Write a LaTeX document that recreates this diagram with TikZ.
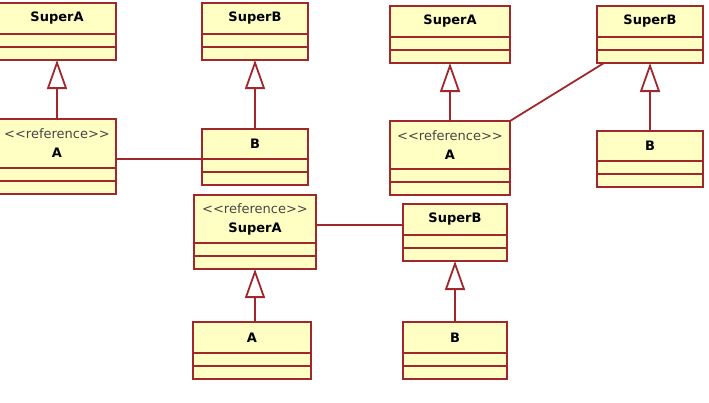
\documentclass[tikz,border=0pt]{standalone}
\usepackage{fontspec}
\usepackage{xcolor}
\usepackage{tikz}
\usetikzlibrary{positioning,arrows.meta}
\newfontfamily\umlfont{DejaVu Sans}
\definecolor{umlred}{RGB}{160,40,45}
\definecolor{umlyellow}{RGB}{255,255,196}
\definecolor{stereogray}{RGB}{70,70,70}
\newcommand\stereo[1]{{\mdseries\color{stereogray}<\kern0pt<#1>\kern0pt>}}

\begin{document}
\begin{tikzpicture}[x=1pt, y=-1pt,
  cls/.style={draw=umlred, fill=umlyellow, line width=1.8pt, inner sep=0pt, outer sep=0pt,
    anchor=north west, align=center, font=\umlfont\fontsize{13}{19}\selectfont\bfseries},
  part/.style={draw=umlred, fill=umlyellow, line width=1.8pt, inner sep=0pt, outer sep=0pt,
    minimum height=13pt},
  inherit/.style={draw=umlred, line width=1.8pt, -{Triangle[open, width=20pt, length=29pt]}},
  assoc/.style={draw=umlred, line width=1.8pt}]

\useasboundingbox (0,0) rectangle (709,402);

% Left pair
\node[cls, minimum width=118pt, minimum height=31pt] (tlSupA1) at (-2,3) {SuperA};
\node[cls, minimum width=118pt, minimum height=49pt] (tlRefA1) at (-2,119) {\stereo{reference}\\A};
\node[cls, minimum width=106pt, minimum height=31pt] (tlSupB1) at (202,3) {SuperB};
\node[cls, minimum width=106pt, minimum height=30pt] (tlB1) at (202,129) {B};

% Right pair
\node[cls, minimum width=120pt, minimum height=31pt] (trSupA1) at (390,6) {SuperA};
\node[cls, minimum width=120pt, minimum height=48pt] (trRefA1) at (390,121) {\stereo{reference}\\A};
\node[cls, minimum width=106pt, minimum height=31pt] (trSupB1) at (597,6) {SuperB};
\node[cls, minimum width=106pt, minimum height=30pt] (trB1) at (597,131) {B};

% Bottom pair
\node[cls, minimum width=122pt, minimum height=48pt] (btSupA1) at (194,195) {\stereo{reference}\\SuperA};
\node[cls, minimum width=118pt, minimum height=31pt] (btA1) at (193,322) {A};
\node[cls, minimum width=104pt, minimum height=31pt] (btSupB1) at (403,204) {SuperB};
\node[cls, minimum width=104pt, minimum height=31pt] (btB1) at (403,322) {B};

% Attribute and operation compartments
\foreach \n/\w in {tlSupA/118pt, tlRefA/118pt, tlSupB/106pt, tlB/106pt,
                   trSupA/120pt, trRefA/120pt, trSupB/106pt, trB/106pt,
                   btSupA/122pt, btA/118pt, btSupB/104pt, btB/104pt} {
  \node[part, minimum width=\w, below=0pt of \n1] (\n2) {};
  \node[part, minimum width=\w, below=0pt of \n2] (\n3) {};
}

% Generalizations
\draw[inherit] (tlRefA1.north) -- (tlSupA3.south);
\draw[inherit] (tlB1.north) -- (tlSupB3.south);
\draw[inherit] (trRefA1.north) -- (trSupA3.south);
\draw[inherit] (trB1.north) -- (trSupB3.south);
\draw[inherit] (btA1.north -| btSupA3.south) -- (btSupA3.south);
\draw[inherit] (btB1.north) -- (btSupB3.south);

% Associations
\coordinate (btAssoc) at ([yshift=-5.5pt]btSupB1.west);
\draw[assoc] (tlRefA1.east |- tlB1.south) -- (tlB1.south west);
\draw[assoc] (trRefA1.north east) -- ([xshift=7pt]trSupB3.south west);
\draw[assoc] (btSupA1.east |- btAssoc) -- (btAssoc);

\end{tikzpicture}
\end{document}
